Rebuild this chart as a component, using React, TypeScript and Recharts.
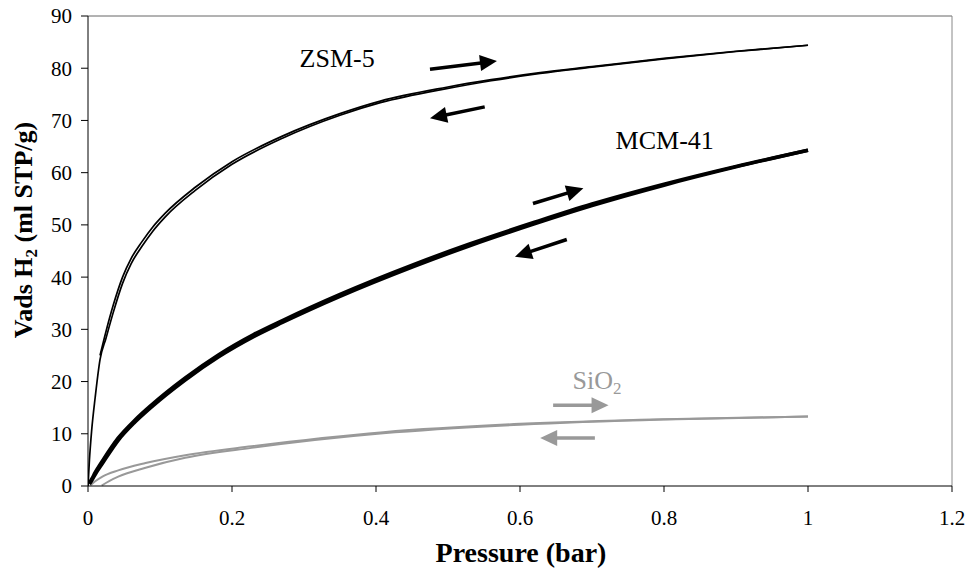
import React from 'react'
import { LineChart, Line, XAxis, YAxis, ReferenceLine, ReferenceDot, Label } from 'recharts'

const FONT = '"Liberation Serif", "Times New Roman", Times, serif'
const GRAY = '#999999'

// ZSM-5 (adsorption / desorption)
const ZSM5_P = [0, 0.002, 0.005, 0.01, 0.0167, 0.025, 0.035, 0.048, 0.06, 0.0745, 0.09, 0.107, 0.149, 0.2, 0.27, 0.35, 0.406, 0.498, 0.56, 0.628, 0.7, 0.8, 0.9, 1.0]
const ZSM5_ADS = [0, 5, 10.5, 17, 24.2, 28.3, 33.2, 38.8, 42.6, 45.8, 48.8, 51.5, 56.6, 61.6, 66.6, 71, 73.4, 76.1, 77.6, 79.0, 80.2, 81.8, 83.2, 84.4]
const ZSM5_DES_P = [0.0167, 0.025, 0.035, 0.048, 0.06, 0.0745, 0.09, 0.107, 0.149, 0.2, 0.27, 0.35, 0.406, 0.498, 0.56, 0.628, 0.7, 0.8, 0.9, 1.0]
const ZSM5_DES = [25.0, 29.6, 34.6, 40.0, 43.6, 46.7, 49.6, 52.2, 57.2, 62.1, 67.0, 71.3, 73.7, 76.35, 77.8, 79.15, 80.3, 81.9, 83.25, 84.4]

// MCM-41
const MCM_P = [0.002, 0.005, 0.01, 0.02, 0.042, 0.065, 0.088, 0.135, 0.181, 0.23, 0.27, 0.35, 0.452, 0.53, 0.62, 0.7, 0.8, 0.9, 1.0]
const MCM_ADS = [0.4, 1.0, 2.2, 4.3, 8.75, 12.2, 15.1, 20.3, 24.7, 28.6, 31.3, 36.3, 42, 46, 50.2, 53.7, 57.6, 61.1, 64.3]
const MCM_DES = [0.6, 1.3, 2.6, 4.8, 9.2, 12.6, 15.5, 20.7, 25.1, 29.0, 31.7, 36.7, 42.4, 46.35, 50.5, 54.0, 57.8, 61.2, 64.3]

// SiO2
const SIO2_A_P = [0.003, 0.01, 0.02, 0.042, 0.08, 0.135, 0.227, 0.41, 0.6, 0.8, 1.0]
const SIO2_A = [0.1, 0.9, 1.8, 3.0, 4.4, 5.9, 7.6, 10.3, 11.9, 12.8, 13.3]
const SIO2_B_P = [0.019, 0.03, 0.042, 0.08, 0.135, 0.227, 0.41, 0.6, 0.8, 1.0]
const SIO2_B = [0.1, 1.0, 1.8, 3.5, 5.4, 7.3, 10.1, 11.75, 12.75, 13.3]

const X_TICKS = [0, 0.2, 0.4, 0.6, 0.8, 1, 1.2]
const Y_TICKS = [0, 10, 20, 30, 40, 50, 60, 70, 80, 90]

// arrows: [x1, y1, x2, y2, colour]
const ARROWS: [number, number, number, number, string][] = [
  [0.475, 79.8, 0.568, 81.4, '#000'],
  [0.551, 72.6, 0.475, 70.4, '#000'],
  [0.618, 54.1, 0.688, 57.0, '#000'],
  [0.665, 47.2, 0.593, 43.9, '#000'],
  [0.646, 15.46, 0.723, 15.46, GRAY],
  [0.704, 9.2, 0.628, 9.2, GRAY],
]

const zip = (p: number[], v: number[]) => p.map((x, i) => ({ x, y: v[i] }))

const arrowShape = (color: string) => (props: any) => {
  const { x1, y1, x2, y2 } = props
  const a = Math.atan2(y2 - y1, x2 - x1)
  const len = 17
  const hw = 8
  const bx = x2 - len * Math.cos(a)
  const by = y2 - len * Math.sin(a)
  const pts = [
    [x2, y2],
    [bx - hw * Math.sin(a), by + hw * Math.cos(a)],
    [bx + hw * Math.sin(a), by - hw * Math.cos(a)],
  ]
    .map((p) => p.join(','))
    .join(' ')
  return (
    <g>
      <line x1={x1} y1={y1} x2={bx + Math.cos(a)} y2={by + Math.sin(a)} stroke={color} strokeWidth={3.5} />
      <polygon points={pts} fill={color} />
    </g>
  )
}

const textShape = (txt: string, sub: string, color: string) => (props: any) => (
  <text x={props.cx} y={props.cy} textAnchor="middle" fill={color} fontFamily={FONT} fontSize={26}>
    {txt}
    {sub && (
      <tspan fontSize={17} dy={5}>
        {sub}
      </tspan>
    )}
  </text>
)

export default function App() {
  const tick = { fill: '#000', fontSize: 21, fontFamily: FONT, style: { fontFamily: FONT } }
  return (
    <div style={{ position: 'absolute', left: 0, top: 0, background: '#fff', fontFamily: FONT }}>
      <LineChart width={969} height={576} margin={{ top: 16, right: 17, bottom: 0, left: 0 }} style={{ fontFamily: FONT }}>
        <XAxis
          type="number"
          dataKey="x"
          domain={[0, 1.2]}
          ticks={X_TICKS}
          height={90}
          tickSize={6}
          tickMargin={18}
          tick={tick}
          axisLine={{ stroke: '#000' }}
          tickLine={{ stroke: '#000' }}
          allowDataOverflow
        >
          <Label
            content={() => (
              <text x={521} y={562} textAnchor="middle" fontFamily={FONT} fontSize={28} fontWeight="bold" fill="#000">
                Pressure (bar)
              </text>
            )}
          />
        </XAxis>
        <YAxis
          type="number"
          domain={[0, 90]}
          ticks={Y_TICKS}
          width={88}
          tickSize={7}
          tickMargin={9}
          tick={tick}
          axisLine={{ stroke: '#000' }}
          tickLine={{ stroke: '#000' }}
        >
          <Label
            content={() => (
              <text
                x={32}
                y={230}
                transform="rotate(-90, 32, 230)"
                textAnchor="middle"
                fontFamily={FONT}
                fontSize={26}
                fontWeight="bold"
                fill="#000"
              >
                Vads H
                <tspan fontSize={17} dy={5}>
                  2
                </tspan>
                <tspan dy={-5}> (ml STP/g)</tspan>
              </text>
            )}
          />
        </YAxis>
        <ReferenceLine y={90} stroke="#666" strokeWidth={1} ifOverflow="visible" />
        <ReferenceLine x={1.2} stroke="#888" strokeWidth={1} ifOverflow="visible" />

        <Line data={zip(SIO2_A_P, SIO2_A)} dataKey="y" type="monotone" stroke={GRAY} strokeWidth={2} dot={false} isAnimationActive={false} />
        <Line data={zip(SIO2_B_P, SIO2_B)} dataKey="y" type="monotone" stroke={GRAY} strokeWidth={2} dot={false} isAnimationActive={false} />
        <Line data={zip(MCM_P, MCM_ADS)} dataKey="y" type="monotone" stroke="#000" strokeWidth={3.5} dot={false} isAnimationActive={false} />
        <Line data={zip(MCM_P, MCM_DES)} dataKey="y" type="monotone" stroke="#000" strokeWidth={3.5} dot={false} isAnimationActive={false} />
        <Line data={zip(ZSM5_P, ZSM5_ADS)} dataKey="y" type="monotone" stroke="#000" strokeWidth={1.7} dot={false} isAnimationActive={false} />
        <Line data={zip(ZSM5_DES_P, ZSM5_DES)} dataKey="y" type="monotone" stroke="#000" strokeWidth={1.7} dot={false} isAnimationActive={false} />

        {ARROWS.map(([x1, y1, x2, y2, c], i) => (
          <ReferenceLine
            key={i}
            segment={[
              { x: x1, y: y1 },
              { x: x2, y: y2 },
            ]}
            ifOverflow="visible"
            shape={arrowShape(c)}
          />
        ))}

        <ReferenceDot x={0.346} y={80.2} r={0} ifOverflow="visible" shape={textShape('ZSM-5', '', '#000')} />
        <ReferenceDot x={0.801} y={64.6} r={0} ifOverflow="visible" shape={textShape('MCM-41', '', '#000')} />
        <ReferenceDot x={0.707} y={18.6} r={0} ifOverflow="visible" shape={textShape('SiO', '2', GRAY)} />
      </LineChart>
    </div>
  )
}
